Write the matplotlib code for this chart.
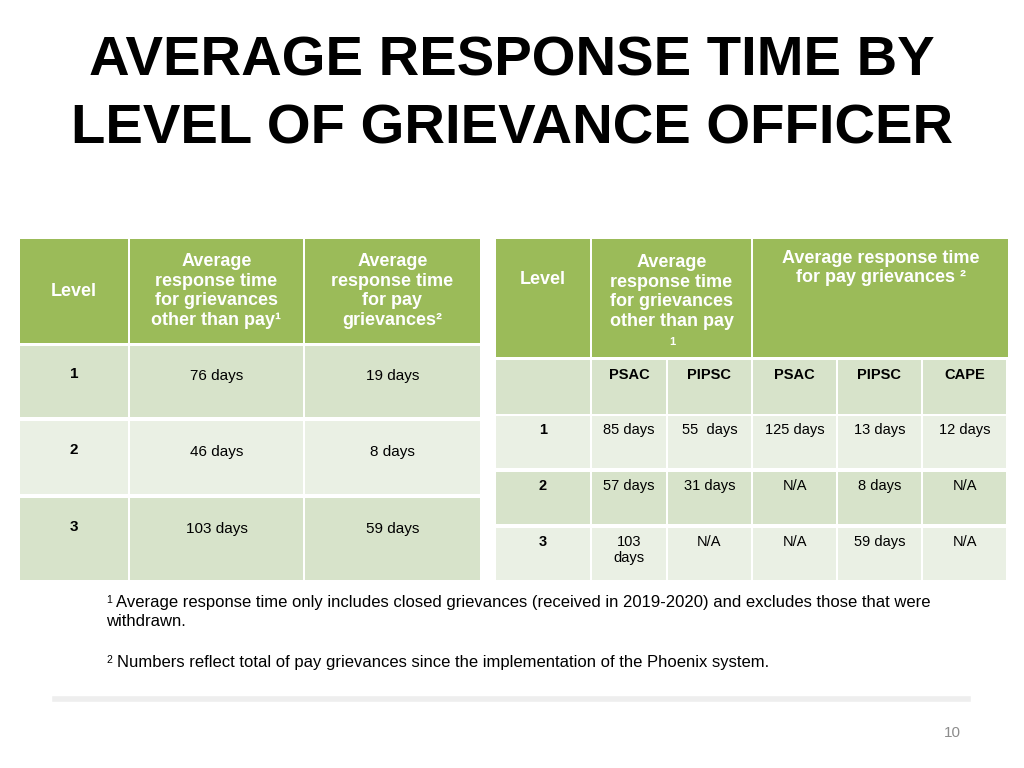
import matplotlib
matplotlib.use("Agg")
import matplotlib.pyplot as plt
from matplotlib.patches import Rectangle

title_lines = ["AVERAGE RESPONSE TIME BY", "LEVEL OF GRIEVANCE OFFICER"]
levels = ["1", "2", "3"]
left_other = ["76 days", "46 days", "103 days"]
left_pay = ["19 days", "8 days", "59 days"]
right_sub = ["PSAC", "PIPSC", "PSAC", "PIPSC", "CAPE"]
right_rows = [["85 days", "55  days", "125 days", "13 days", "12 days"],
              ["57 days", "31 days", "N/A", "8 days", "N/A"],
              ["103\ndays", "N/A", "N/A", "59 days", "N/A"]]
foot1a = "Average response time only includes closed grievances (received in 2019-2020) and excludes those that were"
foot1b = "withdrawn."
foot2 = "Numbers reflect total of pay grievances since the implementation of the Phoenix system."

GREEN = "#9BBB59"; DARK = "#D7E3CA"; LIGHT = "#EAF0E4"
FONT = "Liberation Sans"

fig = plt.figure(figsize=(10.24, 7.68), dpi=100)
ax = fig.add_axes([0, 0, 1, 1])
ax.set_xlim(0, 1024); ax.set_ylim(768, 0); ax.axis("off")

def cell(x0, x1, y0, y1, color, text="", bold=False, tc="black", ty=None, size=11, va="center"):
    ax.add_patch(Rectangle((x0, y0), x1 - x0, y1 - y0, color=color, lw=0))
    if text:
        yy = (y0 + y1) / 2 if ty is None else ty
        ax.text((x0 + x1) / 2, yy, text, ha="center", va=va, fontsize=size,
                fontweight="bold" if bold else "normal", color=tc, family=FONT,
                linespacing=1.2)

for i, t in enumerate(title_lines):
    ax.text(512, 62 + i * 68, t, ha="center", va="center", fontsize=40.5,
            fontweight="bold", family=FONT)

# Left table
lx = [20, 130, 305, 480]
cell(lx[0], lx[1]-2, 239, 343, GREEN, "Level", True, "white", ty=292, size=13)
cell(lx[1], lx[2]-2, 239, 343, GREEN, "Average\nresponse time\nfor grievances\nother than pay¹", True, "white", ty=291, size=13)
cell(lx[2], lx[3], 239, 343, GREEN, "Average\nresponse time\nfor pay\ngrievances²", True, "white", ty=291, size=13)
lrows = [(346, 419), (421, 496), (498, 582)]
lcol = [DARK, LIGHT, DARK]
lty = [376, 452, 529]
for i, (y0, y1) in enumerate(lrows):
    cell(lx[0], lx[1]-2, y0, y1-2, lcol[i], levels[i], True, ty=lty[i]-2)
    cell(lx[1], lx[2]-2, y0, y1-2, lcol[i], left_other[i], ty=lty[i])
    cell(lx[2], lx[3], y0, y1-2, lcol[i], left_pay[i], ty=lty[i])

# Right table
rx = [496, 592, 668, 753, 838, 923, 1008]
cell(rx[0], rx[1]-2, 239, 357, GREEN, "Level", True, "white", ty=280, size=13)
cell(rx[1], rx[3]-2, 239, 357, GREEN, "Average\nresponse time\nfor grievances\nother than pay", True, "white", ty=292, size=13)
ax.text(672, 342, "1", ha="center", va="center", fontsize=8, color="white", family=FONT, fontweight="bold")
cell(rx[3], rx[6], 239, 357, GREEN, "Average response time\nfor pay grievances ²", True, "white", ty=268, size=13)
cell(rx[0], rx[1]-2, 360, 414, DARK)
for j, s in enumerate(right_sub):
    cell(rx[j+1], rx[j+2]-2, 360, 414, DARK, s, True, ty=375, size=10.5)
rrows = [(416, 470), (472, 526), (528, 582)]
rcol = [LIGHT, DARK, LIGHT]
for i, (y0, y1) in enumerate(rrows):
    cell(rx[0], rx[1]-2, y0, y1-2, rcol[i], levels[i], True, ty=y0+7, size=10.5, va="top")
    for j, v in enumerate(right_rows[i]):
        cell(rx[j+1], rx[j+2]-2, y0, y1-2, rcol[i], v, ty=y0+7, size=10.5, va="top")

ax.text(106, 600, "1", fontsize=7.5, va="center", family=FONT)
ax.text(116, 602, foot1a, fontsize=12, va="center", family=FONT)
ax.text(106, 622, foot1b, fontsize=12, va="center", family=FONT)
ax.text(106, 660, "2", fontsize=7.5, va="center", family=FONT)
ax.text(117, 663, foot2, fontsize=12, va="center", family=FONT)

ax.plot([55, 968], [699, 699], color="#EEEEEE", lw=4)
ax.text(952, 733, "10", fontsize=11, color="#8C8C8C", ha="center", va="center", family=FONT)

fig.savefig("out.png", dpi=100)
